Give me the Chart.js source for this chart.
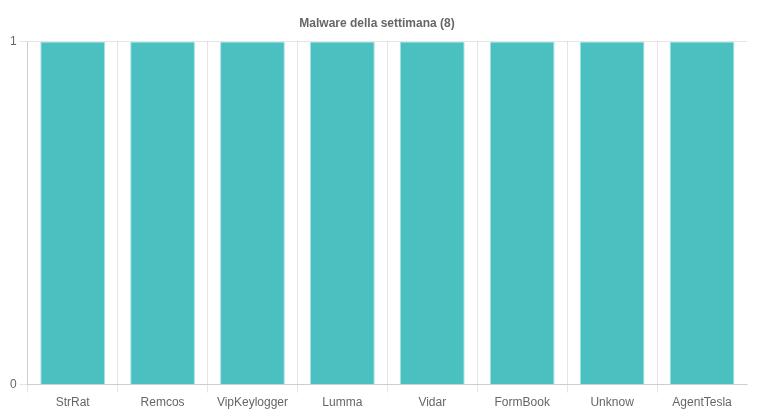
<!DOCTYPE html>
<html><head><meta charset="utf-8">
<script src="https://cdn.jsdelivr.net/npm/chart.js@4/dist/chart.umd.min.js"></script>
<style>html,body{margin:0;padding:0;background:#fff}#wrap{width:777px;height:420px}</style>
</head><body><div id="wrap"><canvas id="c"></canvas></div>
<script>
const categories = ["StrRat","Remcos","VipKeylogger","Lumma","Vidar","FormBook","Unknow","AgentTesla"];
const counts = [1,1,1,1,1,1,1,1];
const titleText = "Malware della settimana (8)";

Chart.defaults.font.family = "'Liberation Sans', Arial, Helvetica, sans-serif";
Chart.defaults.color = "#666";
const isInnerLine = (ctx) => ctx.type === 'tick' && ctx.index < categories.length;
new Chart(document.getElementById('c'), {
  type: 'bar',
  data: { labels: categories, datasets: [{ data: counts, backgroundColor: 'rgb(75,192,192)', borderColor: 'rgba(160,225,225,1)', borderWidth: 1 }] },
  options: {
    responsive: true, maintainAspectRatio: false, animation: false,
    layout: { padding: { left: 7, right: 30, top: 2, bottom: 7 } },
    plugins: {
      legend: { display: false },
      title: { display: true, text: titleText, font: { size: 12, weight: 'bold' }, color: '#666', padding: { top: 14, bottom: 11 } },
      tooltip: { enabled: false }
    },
    scales: {
      x: { grid: { color: (ctx) => isInnerLine(ctx) ? 'rgba(0,0,0,0.1)' : 'rgba(255,255,255,0)', lineWidth: (ctx) => isInnerLine(ctx) ? 1 : 0 }, border: { color: 'rgba(0,0,0,0.1)' }, ticks: { font: { size: 12 }, color: '#666' } },
      y: { min: 0, max: 1, ticks: { stepSize: 1, font: { size: 12 }, color: '#666' }, grid: { color: 'rgba(0,0,0,0.1)' }, border: { color: 'rgba(0,0,0,0.1)' } }
    }
  }
});
</script></body></html>
